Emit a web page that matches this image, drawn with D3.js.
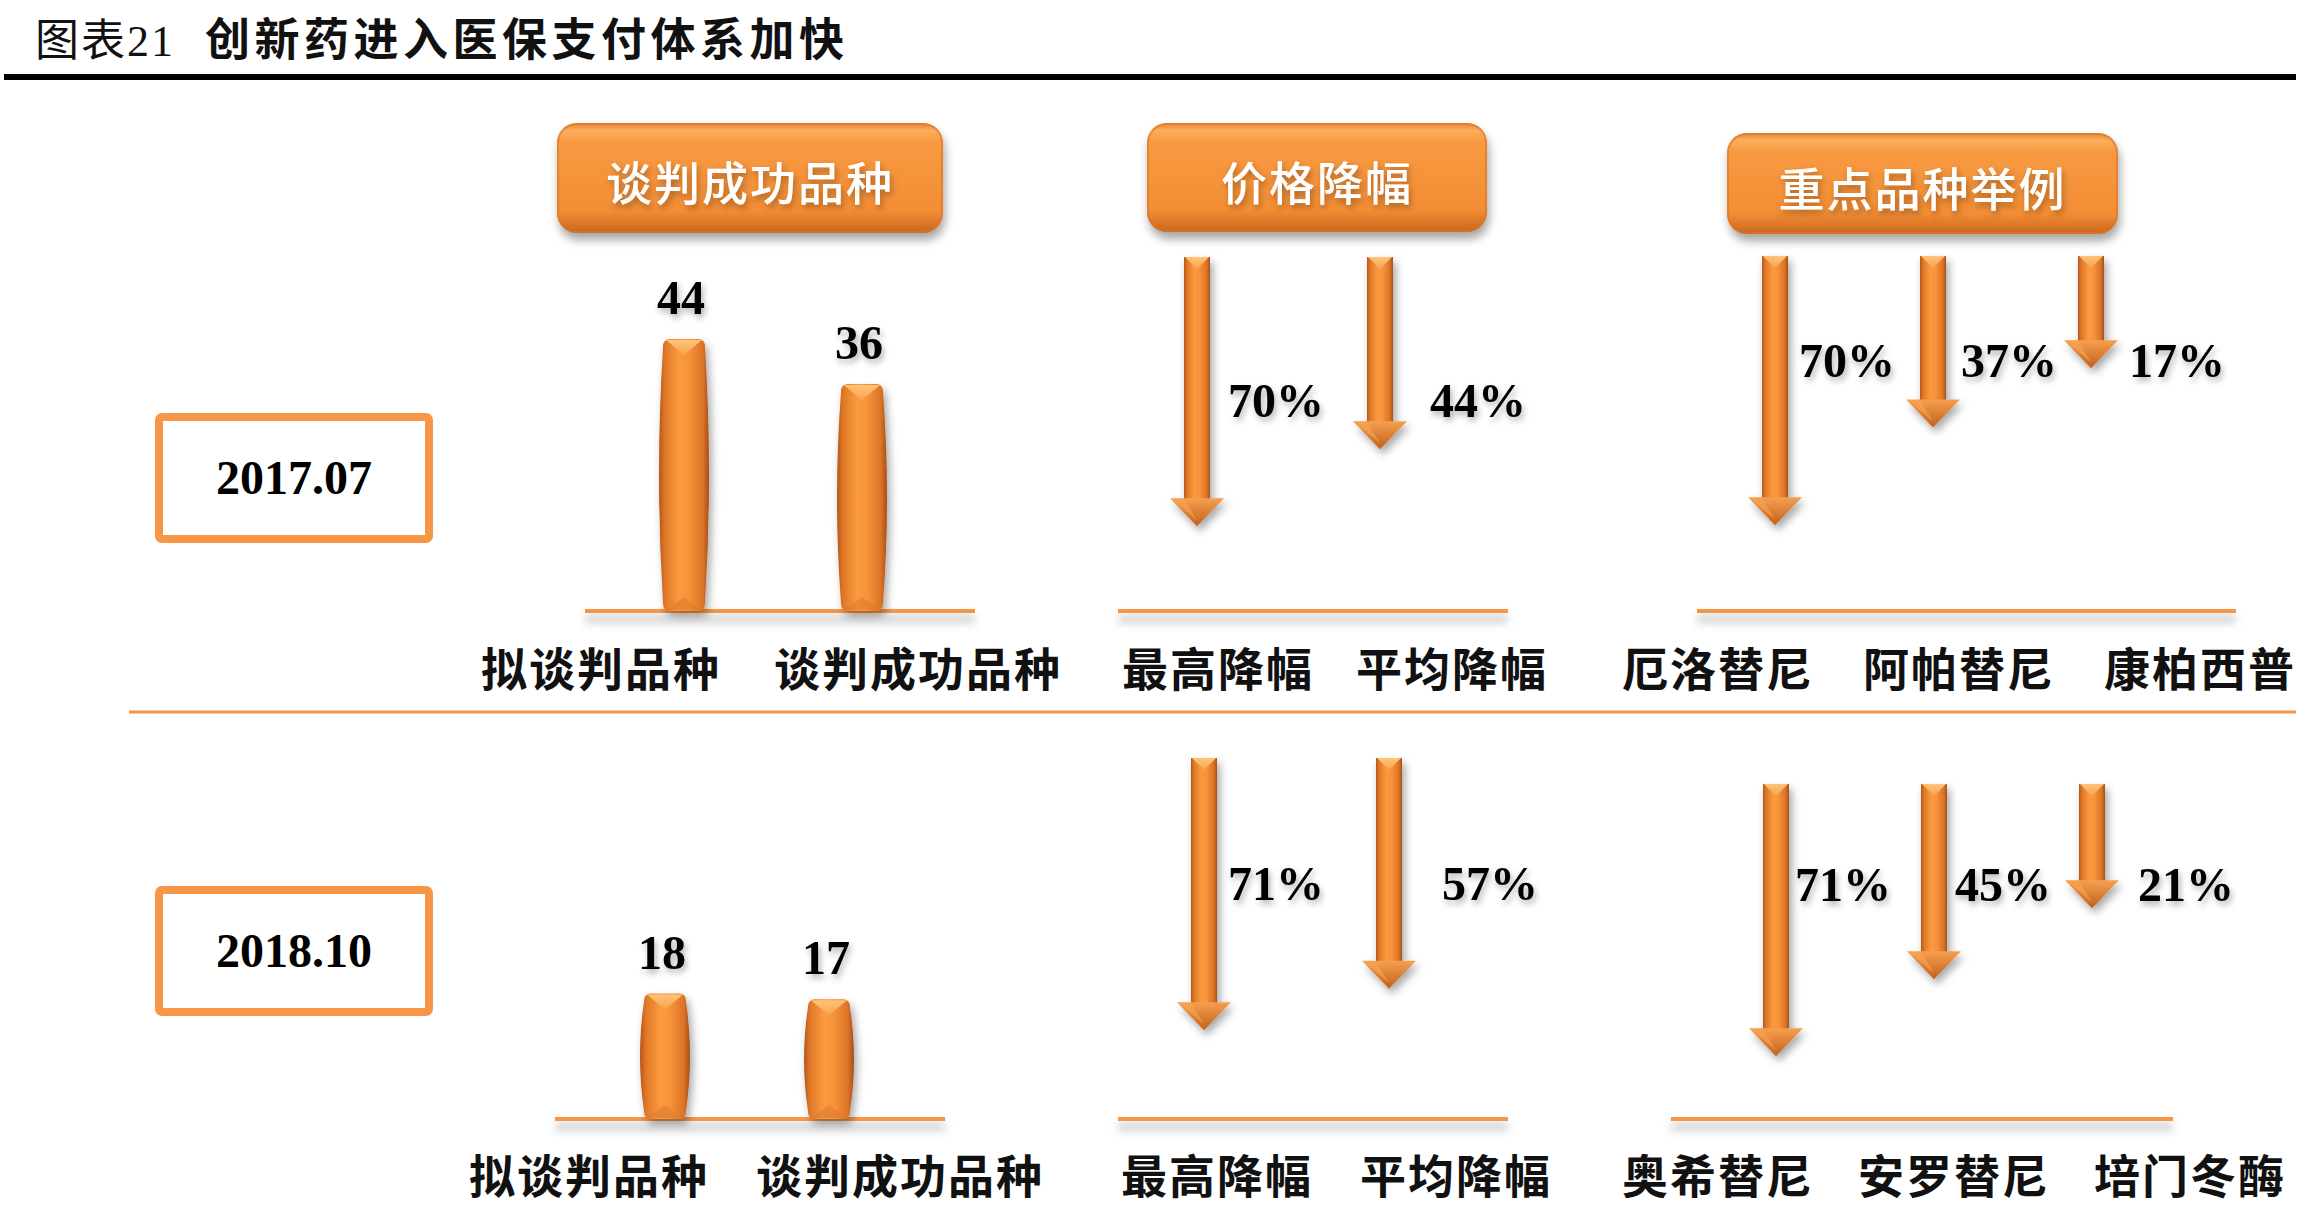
<!DOCTYPE html>
<html><head><meta charset="utf-8">
<script src="https://cdn.jsdelivr.net/npm/d3@7"></script>
<style>html,body{margin:0;padding:0;background:#fff;} svg{display:block;}</style>
</head><body><div id="chart"></div>
<script>
// ---------- data ----------
const titleLabel = "图表21";
const titleText = "创新药进入医保支付体系加快";
const periods = ["2017.07", "2018.10"];
const panelTitles = ["谈判成功品种", "价格降幅", "重点品种举例"];
const varietyCats = ["拟谈判品种", "谈判成功品种"];
const varietyValues = [[44, 36], [18, 17]];
const cutCats = ["最高降幅", "平均降幅"];
const cutValues = [[70, 44], [71, 57]];
const drugNames = [["厄洛替尼", "阿帕替尼", "康柏西普"], ["奥希替尼", "安罗替尼", "培门冬酶"]];
const drugCuts = [[70, 37, 17], [71, 45, 21]];

// ---------- layout ----------
const W = 2322, H = 1218;
const ORANGE = "#F79646";
const CJK = "'Noto Sans CJK SC','Noto Sans',sans-serif";
const SERIF = "'Liberation Serif','Times New Roman',serif";

const rows = [
  { boxY: 417, baseY: 611, labelY: 666,
    barX: [684, 862], barLab: [601, 918], line1: [585, 975],
    arrTop2: 257, arrX2: [1197, 1380], lab2: [1218, 1452], pctY2: 417, pctOff2: [31, 50],
    arrTop3: 256, arrX3: [1775, 2091], lab3: [1718, 2200], pctY3: 377, pctOff3: [24, 28, 38],
    line2: [1118, 1508], line3: [1697, 2236] },
  { boxY: 890, baseY: 1119, labelY: 1173,
    barX: [665, 829], barLab: [589, 900], line1: [555, 945],
    arrTop2: 758, arrX2: [1204, 1389], lab2: [1217, 1456], pctY2: 900, pctOff2: [24, 53],
    arrTop3: 784, arrX3: [1776, 2092], lab3: [1718, 2190], pctY3: 901, pctOff3: [19, 21, 46],
    line2: [1118, 1508], line3: [1671, 2173] }
];
const headers = [
  { x0: 557, x1: 943, y0: 123, y1: 233 },
  { x0: 1147, x1: 1487, y0: 123, y1: 232 },
  { x0: 1727, x1: 2118, y0: 133, y1: 234 }
];

const svg = d3.select("#chart").append("svg").attr("width", W).attr("height", H)
  .style("background", "#fff");
const defs = svg.append("defs");

function grad(id, horizontal, stops) {
  const g = defs.append("linearGradient").attr("id", id)
    .attr("x1", 0).attr("y1", 0).attr("x2", horizontal ? 1 : 0).attr("y2", horizontal ? 0 : 1);
  stops.forEach(s => g.append("stop").attr("offset", s[0]).attr("stop-color", s[1]));
}
grad("gBody", true, [[0, "#B5561A"], [0.12, "#DF7827"], [0.4, "#F99A40"], [0.6, "#F7933A"], [0.88, "#DB7326"], [1, "#A44E1A"]]);
grad("gHead", false, [[0, "#E9822E"], [0.07, "#FBAE5E"], [0.18, "#F89A42"], [0.8, "#F38D34"], [1, "#C8661D"]]);
grad("gBevel", false, [[0, "#FFC47A"], [1, "#F9A24E"]]);
grad("gArrowHead", false, [[0, "#F6A050"], [1, "#C2601B"]]);

function shadow(id, dx, dy, sd, op) {
  const f = defs.append("filter").attr("id", id).attr("x", "-50%").attr("y", "-50%").attr("width", "200%").attr("height", "200%");
  f.append("feDropShadow").attr("dx", dx).attr("dy", dy).attr("stdDeviation", sd)
    .attr("flood-color", "#000").attr("flood-opacity", op);
}
shadow("shBox", 2, 7, 5, 0.35);
shadow("shMark", 3, 5, 4, 0.35);
shadow("shText", 2, 4, 3, 0.3);
const blur = defs.append("filter").attr("id", "blurLine").attr("x", "-10%").attr("y", "-200%").attr("width", "120%").attr("height", "500%");
blur.append("feGaussianBlur").attr("stdDeviation", 4);

// ---------- title ----------
const title = svg.append("text").attr("x", 35).attr("y", 56).attr("fill", "#111");
title.append("tspan").text(titleLabel).attr("font-family", SERIF + "," + CJK)
  .attr("font-size", 44).attr("font-weight", 400).attr("letter-spacing", 2);
title.append("tspan").text(titleText).attr("dx", 30).attr("font-family", CJK)
  .attr("font-size", 45).attr("font-weight", 700).attr("letter-spacing", 4.5);
svg.append("rect").attr("x", 4).attr("y", 74).attr("width", 2292).attr("height", 6).attr("fill", "#000");

// separator
svg.append("line").attr("x1", 129).attr("x2", 2296).attr("y1", 712).attr("y2", 712)
  .attr("stroke", ORANGE).attr("stroke-width", 3);

// ---------- headers ----------
headers.forEach((h, i) => {
  const g = svg.append("g");
  g.append("rect").attr("x", h.x0).attr("y", h.y0).attr("width", h.x1 - h.x0).attr("height", h.y1 - h.y0)
    .attr("rx", 20).attr("fill", "url(#gHead)").attr("filter", "url(#shBox)");
  g.append("rect").attr("x", h.x0 + 1).attr("y", h.y0 + 1).attr("width", h.x1 - h.x0 - 2).attr("height", h.y1 - h.y0 - 2)
    .attr("rx", 19).attr("fill", "none").attr("stroke", "#D9762A").attr("stroke-width", 2).attr("opacity", 0.6);
  g.append("text").text(panelTitles[i]).attr("x", (h.x0 + h.x1) / 2).attr("y", (h.y0 + h.y1) / 2 + 2)
    .attr("text-anchor", "middle").attr("dominant-baseline", "central")
    .attr("font-family", CJK).attr("font-size", 46).attr("font-weight", 500).attr("letter-spacing", 2)
    .attr("fill", "#fff").attr("filter", "url(#shText)");
});

// ---------- scales ----------
const barH = d3.scaleLinear().domain([0, 44]).range([24, 272]);
const arrowLen = d3.scaleLinear().domain([0, 75]).range([62, 284]);

function baseline(x0, x1, y) {
  svg.append("rect").attr("x", x0).attr("y", y + 4).attr("width", x1 - x0).attr("height", 8)
    .attr("fill", "#999").attr("opacity", 0.45).attr("filter", "url(#blurLine)");
  svg.append("line").attr("x1", x0).attr("x2", x1).attr("y1", y).attr("y2", y)
    .attr("stroke", ORANGE).attr("stroke-width", 4);
}

function cjkLabels(names, xs, y) {
  const sc = d3.scalePoint().domain(names).range(xs);
  svg.append("g").selectAll("text").data(names).join("text")
    .text(d => d).attr("x", d => sc(d)).attr("y", y)
    .attr("text-anchor", "middle").attr("dominant-baseline", "central")
    .attr("font-family", CJK).attr("font-size", 46).attr("font-weight", 700).attr("letter-spacing", 2)
    .attr("fill", "#111");
}

function numLabel(text, x, y, anchor) {
  svg.append("text").text(text).attr("x", x).attr("y", y).attr("text-anchor", anchor)
    .attr("font-family", SERIF).attr("font-weight", 700).attr("font-size", 48)
    .attr("fill", "#000").attr("filter", "url(#shText)");
}

function drawBar(cx, bottom, h) {
  const top = bottom - h, w = 42, b = 8, g = svg.append("g").attr("filter", "url(#shMark)");
  const l = cx - w / 2, r = cx + w / 2, mid = (top + bottom) / 2;
  const p = d3.path();
  p.moveTo(l, bottom - 8);
  p.quadraticCurveTo(l - b, mid, l, top + 8);
  p.quadraticCurveTo(l, top, l + 7, top);
  p.lineTo(r - 7, top);
  p.quadraticCurveTo(r, top, r, top + 8);
  p.quadraticCurveTo(r + b, mid, r, bottom - 8);
  p.quadraticCurveTo(r, bottom, r - 7, bottom);
  p.lineTo(l + 7, bottom);
  p.quadraticCurveTo(l, bottom, l, bottom - 8);
  p.closePath();
  g.append("path").attr("d", p.toString()).attr("fill", "url(#gBody)");
  g.append("path").attr("d", `M${l + 3},${top + 1}L${r - 3},${top + 1}L${cx},${top + 16}Z`).attr("fill", "url(#gBevel)");
  g.append("path").attr("d", `M${l + 3},${bottom - 1}L${r - 3},${bottom - 1}L${cx},${bottom - 14}Z`)
    .attr("fill", "#E07A2C").attr("opacity", 0.6);
}

function drawArrow(cx, top, len) {
  const sw = 26, hw = 54, hl = 28, tip = top + len, g = svg.append("g").attr("filter", "url(#shMark)");
  g.append("rect").attr("x", cx - sw / 2).attr("y", top).attr("width", sw).attr("height", len - hl + 1).attr("fill", "url(#gBody)");
  g.append("path").attr("d", `M${cx - sw / 2 + 1},${top}L${cx + sw / 2 - 1},${top}L${cx},${top + 12}Z`).attr("fill", "url(#gBevel)");
  g.append("path").attr("d", `M${cx - hw / 2},${tip - hl}L${cx + hw / 2},${tip - hl}L${cx},${tip}Z`).attr("fill", "url(#gArrowHead)");
  g.append("path").attr("d", `M${cx - hw / 2 + 2},${tip - hl + 1}L${cx - sw / 2},${tip - hl + 1}L${cx},${tip - 6}L${cx - hw / 2 + 8},${tip - hl + 6}Z`)
    .attr("fill", "#F9A555").attr("opacity", 0.6);
}

// ---------- rows ----------
rows.forEach((R, ri) => {
  // period box
  svg.append("rect").attr("x", 159).attr("y", R.boxY).attr("width", 270).attr("height", 122)
    .attr("rx", 3).attr("fill", "#fff").attr("stroke", ORANGE).attr("stroke-width", 8);
  svg.append("text").text(periods[ri]).attr("x", 294).attr("y", R.boxY + 61 + 16)
    .attr("text-anchor", "middle").attr("font-family", SERIF).attr("font-weight", 700)
    .attr("font-size", 48).attr("fill", "#000");

  // panel 1: bars
  baseline(R.line1[0], R.line1[1], R.baseY);
  const bx = d3.scalePoint().domain(varietyCats).range(R.barX);
  varietyCats.forEach((c, i) => {
    const h = barH(varietyValues[ri][i]);
    drawBar(bx(c), R.baseY, h);
    numLabel(varietyValues[ri][i], bx(c) - 3, R.baseY - h - 25, "middle");
  });
  cjkLabels(varietyCats, R.barLab, R.labelY);

  // panel 2: price cuts
  baseline(R.line2[0], R.line2[1], R.baseY);
  const ax2 = d3.scalePoint().domain(cutCats).range(R.arrX2);
  cutCats.forEach((c, i) => {
    drawArrow(ax2(c), R.arrTop2, arrowLen(cutValues[ri][i]));
    numLabel(cutValues[ri][i] + "%", ax2(c) + R.pctOff2[i], R.pctY2, "start");
  });
  cjkLabels(cutCats, R.lab2, R.labelY);

  // panel 3: key drugs
  baseline(R.line3[0], R.line3[1], R.baseY);
  const ax3 = d3.scalePoint().domain(drugNames[ri]).range(R.arrX3);
  drugNames[ri].forEach((c, i) => {
    drawArrow(ax3(c), R.arrTop3, arrowLen(drugCuts[ri][i]));
    numLabel(drugCuts[ri][i] + "%", ax3(c) + R.pctOff3[i], R.pctY3, "start");
  });
  cjkLabels(drugNames[ri], R.lab3, R.labelY);
});
</script></body></html>
